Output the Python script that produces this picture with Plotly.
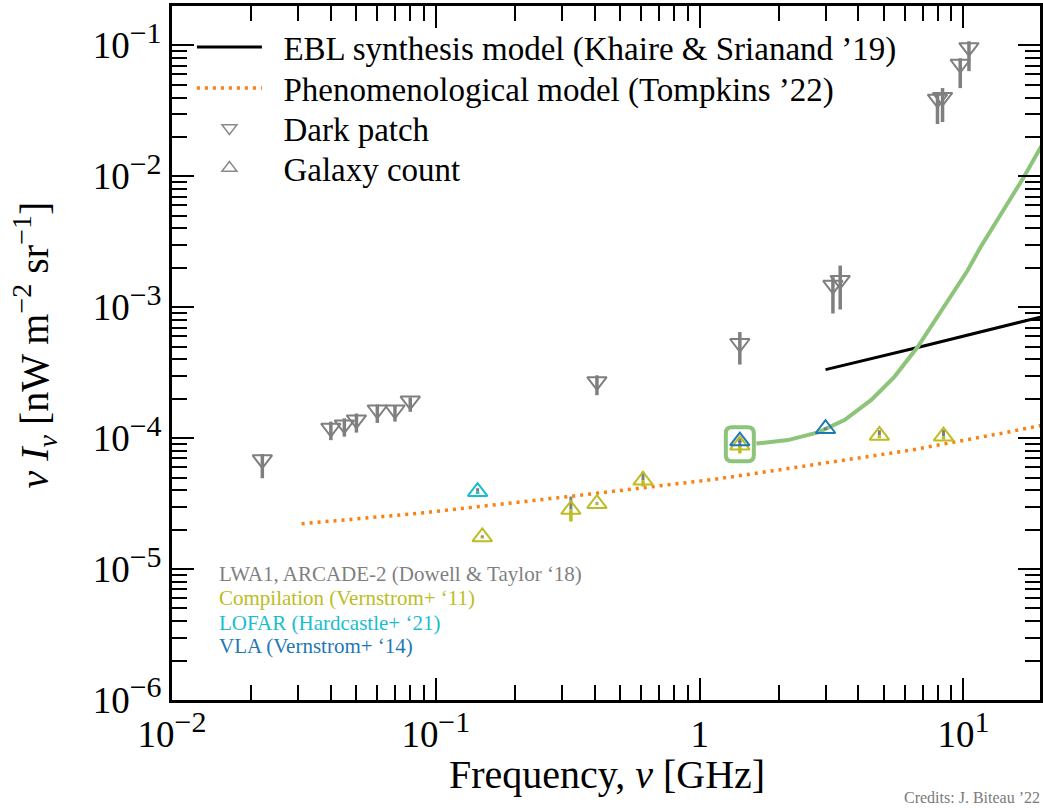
import math
import plotly.graph_objects as go

# ---------------------------------------------------------------------------
# Data (frequency in GHz, nu*I_nu in nW m^-2 sr^-1)
# ---------------------------------------------------------------------------

# Dark-patch measurements (LWA1, ARCADE-2; Dowell & Taylor '18)
dark_freq = [0.022, 0.040, 0.045, 0.050, 0.060, 0.070, 0.080, 0.408, 1.42,
             3.20, 3.41, 7.97, 8.33, 9.72, 10.49]
dark_val = [6.86e-5, 1.196e-4, 1.267e-4, 1.383e-4, 1.648e-4, 1.648e-4, 1.93e-4,
            2.71e-4, 5.31e-4, 1.476e-3, 1.611e-3, 3.90e-2, 4.02e-2, 7.21e-2, 9.66e-2]
dark_err_hi = [0.71e-5, 0.14e-4, 0.15e-4, 0.16e-4, 0.16e-4, 0.14e-4, 0.12e-4,
               0.31e-4, 1.15e-4, 0.22e-3, 0.47e-3, 0.35e-2, 0.70e-2, 0.77e-2, 1.1e-2]
dark_err_lo = [1.92e-5, 0.23e-4, 0.24e-4, 0.28e-4, 0.34e-4, 0.31e-4, 0.34e-4,
               0.58e-4, 1.66e-4, 0.58e-3, 0.65e-3, 1.39e-2, 1.42e-2, 2.49e-2, 3.3e-2]

# Galaxy-count estimates
comp_freq = [0.150, 0.325, 0.408, 0.610, 1.42, 4.80, 8.40]          # Vernstrom+ '11
comp_val = [1.76e-5, 2.85e-5, 3.16e-5, 4.76e-5, 8.84e-5, 1.049e-4, 1.036e-4]
comp_err_hi = [0.05e-5, 0.73e-5, 0.08e-5, 0.79e-5, 1.4e-5, 0.10e-4, 0.12e-4]
comp_err_lo = [0.05e-5, 0.54e-5, 0.08e-5, 0.49e-5, 1.2e-5, 0.05e-4, 0.06e-4]

lofar_freq = [0.144]                                                  # Hardcastle+ '21
lofar_val = [3.9e-5]
lofar_err_hi = [0.25e-5]
lofar_err_lo = [0.15e-5]

vla_freq = [1.42, 3.0]                                                # Vernstrom+ '14
vla_val = [9.5e-5, 1.18e-4]
vla_err_hi = [0.3e-5, 0.3e-5]
vla_err_lo = [0.2e-5, 0.2e-5]

# Models
ebl_freq = [3.0, 6.7, 20.0]
ebl_val = [3.34e-4, 4.92e-4, 8.5e-4]

phen_freq = [0.031, 0.0866, 0.319, 1.14, 1.98, 6.32, 15.0, 20.0]
phen_val = [2.22e-5, 2.67e-5, 3.58e-5, 4.85e-5, 5.71e-5, 8.1e-5, 1.12e-4, 1.26e-4]

excess_freq = [1.64, 2.16, 2.81, 3.54, 4.46, 5.47, 6.70, 7.97, 9.48, 10.35,
               11.6, 16.9, 19.6, 20.0]
excess_val = [9.1e-5, 9.67e-5, 1.107e-4, 1.375e-4, 1.95e-4, 2.94e-4, 4.97e-4,
              8.4e-4, 1.42e-3, 1.9e-3, 2.87e-3, 9.8e-3, 1.66e-2, 1.78e-2]

# Reference point highlighted by the rounded box
highlight_freq = 1.42
highlight_val = 9.0e-5

# Axis ticks
SUP = "<sup><span style='font-size:30px'>{}</span></sup>"
x_major = [0.01, 0.1, 1, 10]
x_labels = ["10" + SUP.format("−2"), "10" + SUP.format("−1"), "1", "10" + SUP.format("1")]
y_major = [1e-6, 1e-5, 1e-4, 1e-3, 1e-2, 1e-1]
y_labels = ["10" + SUP.format(f"−{k}") for k in (6, 5, 4, 3, 2, 1)]
x_minor = [k * 10.0 ** e for e in (-2, -1, 0) for k in range(2, 10)]
y_minor = [k * 10.0 ** e for e in (-6, -5, -4, -3, -2) for k in range(2, 10)]

# ---------------------------------------------------------------------------
GRAY = "#7f7f7f"
LEG_GRAY = "#8a8a8a"
OLIVE = "#bcbd22"
CYAN = "#17becf"
BLUE = "#1f77b4"
ORANGE = "#ff7f0e"
GREEN = "#8cc47a"
FONT = "Liberation Serif"
PAD = "\u00a0\u00a0"   # gap between legend symbol and label

fig = go.Figure()

# Model curves
fig.add_trace(go.Scatter(
    x=phen_freq, y=phen_val, mode="lines",
    line=dict(color=ORANGE, width=3.5, dash="3px,5px"),
    name=PAD + "Phenomenological model (Tompkins ’22)", legend="legend2",
    hoverinfo="skip"))
fig.add_trace(go.Scatter(
    x=ebl_freq, y=ebl_val, mode="lines",
    line=dict(color="black", width=3),
    name=PAD + "EBL synthesis model (Khaire & Srianand ’19)", legend="legend",
    hoverinfo="skip"))
fig.add_trace(go.Scatter(
    x=excess_freq, y=excess_val, mode="lines",
    line=dict(color=GREEN, width=4), showlegend=False, hoverinfo="skip"))

# Gray upper error bars of the galaxy counts
gc_x = comp_freq + lofar_freq + vla_freq
gc_y = comp_val + lofar_val + vla_val
gc_hi = comp_err_hi + lofar_err_hi + vla_err_hi
fig.add_trace(go.Scatter(
    x=gc_x, y=gc_y, mode="markers", marker=dict(size=1, opacity=0),
    error_y=dict(type="data", symmetric=False, array=gc_hi,
                 arrayminus=[0] * len(gc_hi), color=GRAY, thickness=3, width=0),
    showlegend=False, hoverinfo="skip"))

# Galaxy counts, one trace per survey
for fx, fv, lo, col in [(comp_freq, comp_val, comp_err_lo, OLIVE),
                        (lofar_freq, lofar_val, lofar_err_lo, CYAN),
                        (vla_freq, vla_val, vla_err_lo, BLUE)]:
    fig.add_trace(go.Scatter(
        x=fx, y=fv, mode="markers",
        marker=dict(symbol="triangle-up-open", size=17, color=col,
                    line=dict(width=2, color=col)),
        error_y=dict(type="data", symmetric=False, array=[0] * len(lo),
                     arrayminus=lo, color=col, thickness=3.5, width=0),
        showlegend=False))

# Dark patches
fig.add_trace(go.Scatter(
    x=dark_freq, y=dark_val, mode="markers",
    marker=dict(symbol="triangle-down-open", size=17, color=GRAY,
                line=dict(width=2, color=GRAY)),
    error_y=dict(type="data", symmetric=False, array=dark_err_hi,
                 arrayminus=dark_err_lo, color=GRAY, thickness=3.5, width=0),
    showlegend=False))

# Legend entries for the two marker families
fig.add_trace(go.Scatter(
    x=[None], y=[None], mode="markers", name=PAD + "Dark patch", legend="legend3",
    marker=dict(symbol="triangle-down-open", size=13, color=LEG_GRAY,
                line=dict(width=1.5, color=LEG_GRAY))))
fig.add_trace(go.Scatter(
    x=[None], y=[None], mode="markers", name=PAD + "Galaxy count", legend="legend4",
    marker=dict(symbol="triangle-up-open", size=13, color=LEG_GRAY,
                line=dict(width=1.5, color=LEG_GRAY))))

# Rounded box around the anchoring point of the excess curve
fig.add_shape(
    type="path", xref="x", yref="y",
    xsizemode="pixel", ysizemode="pixel",
    xanchor=highlight_freq, yanchor=highlight_val,
    path="M -8,-17 L 8,-17 Q 14,-17 14,-11 L 14,11 Q 14,17 8,17 L -8,17 "
         "Q -14,17 -14,11 L -14,-11 Q -14,-17 -8,-17 Z",
    line=dict(color=GREEN, width=4), fillcolor="rgba(0,0,0,0)")

axis_common = dict(
    type="log", showgrid=False, zeroline=False,
    showline=True, linecolor="black", linewidth=3, mirror="ticks",
    ticks="inside", ticklen=22, tickwidth=2, tickcolor="black",
    tickmode="array", tickfont=dict(family=FONT, size=37, color="black"),
    minor=dict(ticks="inside", ticklen=15, tickwidth=2, tickcolor="black",
               tickmode="array", showgrid=False),
)


def legend_at(row_px):
    return dict(x=(192 - 172) / 871, y=(700 - row_px) / 694,
                xanchor="left", yanchor="middle",
                bgcolor="rgba(0,0,0,0)", borderwidth=0,
                font=dict(family=FONT, size=33, color="black"),
                itemwidth=65, tracegroupgap=0)


fig.update_layout(
    width=1043, height=811,
    margin=dict(l=172, r=0, t=6, b=111),
    paper_bgcolor="white", plot_bgcolor="white",
    font=dict(family=FONT, color="black"),
    showlegend=True,
    legend=legend_at(47),
    legend2=legend_at(88),
    legend3=legend_at(128),
    legend4=legend_at(168),
    xaxis=dict(axis_common, range=[-2, math.log10(19.5)],
               tickvals=x_major, ticktext=x_labels),
    yaxis=dict(axis_common, range=[-6, math.log10(0.2)],
               tickvals=y_major, ticktext=y_labels),
)
fig.update_xaxes(minor=dict(tickvals=x_minor))
fig.update_yaxes(minor=dict(tickvals=y_minor))

# Axis titles
fig.add_annotation(
    text="Frequency, <i>ν</i> [GHz]", xref="paper", yref="paper",
    x=0.5006, y=-0.108, xanchor="center", yanchor="middle", showarrow=False,
    font=dict(family=FONT, size=40, color="black"))
fig.add_annotation(
    text="<i>ν I<sub>ν</sub></i> [nW m<sup>−2</sup> sr<sup>−1</sup>]",
    xref="paper", yref="paper", x=-0.1584, y=0.5115, textangle=-90,
    xanchor="center", yanchor="middle", showarrow=False,
    font=dict(family=FONT, size=40, color="black"))

# Survey key
for text, col, ypx in [("LWA1, ARCADE-2 (Dowell & Taylor ‘18)", GRAY, 574),
                       ("Compilation (Vernstrom+ ‘11)", OLIVE, 598),
                       ("LOFAR (Hardcastle+ ‘21)", CYAN, 623),
                       ("VLA (Vernstrom+ ‘14)", BLUE, 646)]:
    fig.add_annotation(
        text=text, xref="paper", yref="paper",
        x=(217 - 172) / 871, y=(700 - ypx) / 694,
        xanchor="left", yanchor="middle", showarrow=False,
        font=dict(family=FONT, size=21, color=col))

fig.add_annotation(
    text="Credits: J. Biteau ’22", xref="paper", yref="paper",
    x=(905 - 172) / 871, y=(700 - 797) / 694, xanchor="left", yanchor="middle",
    showarrow=False, font=dict(family=FONT, size=16, color="#7a7a7a"))

fig.write_html("out.html")
